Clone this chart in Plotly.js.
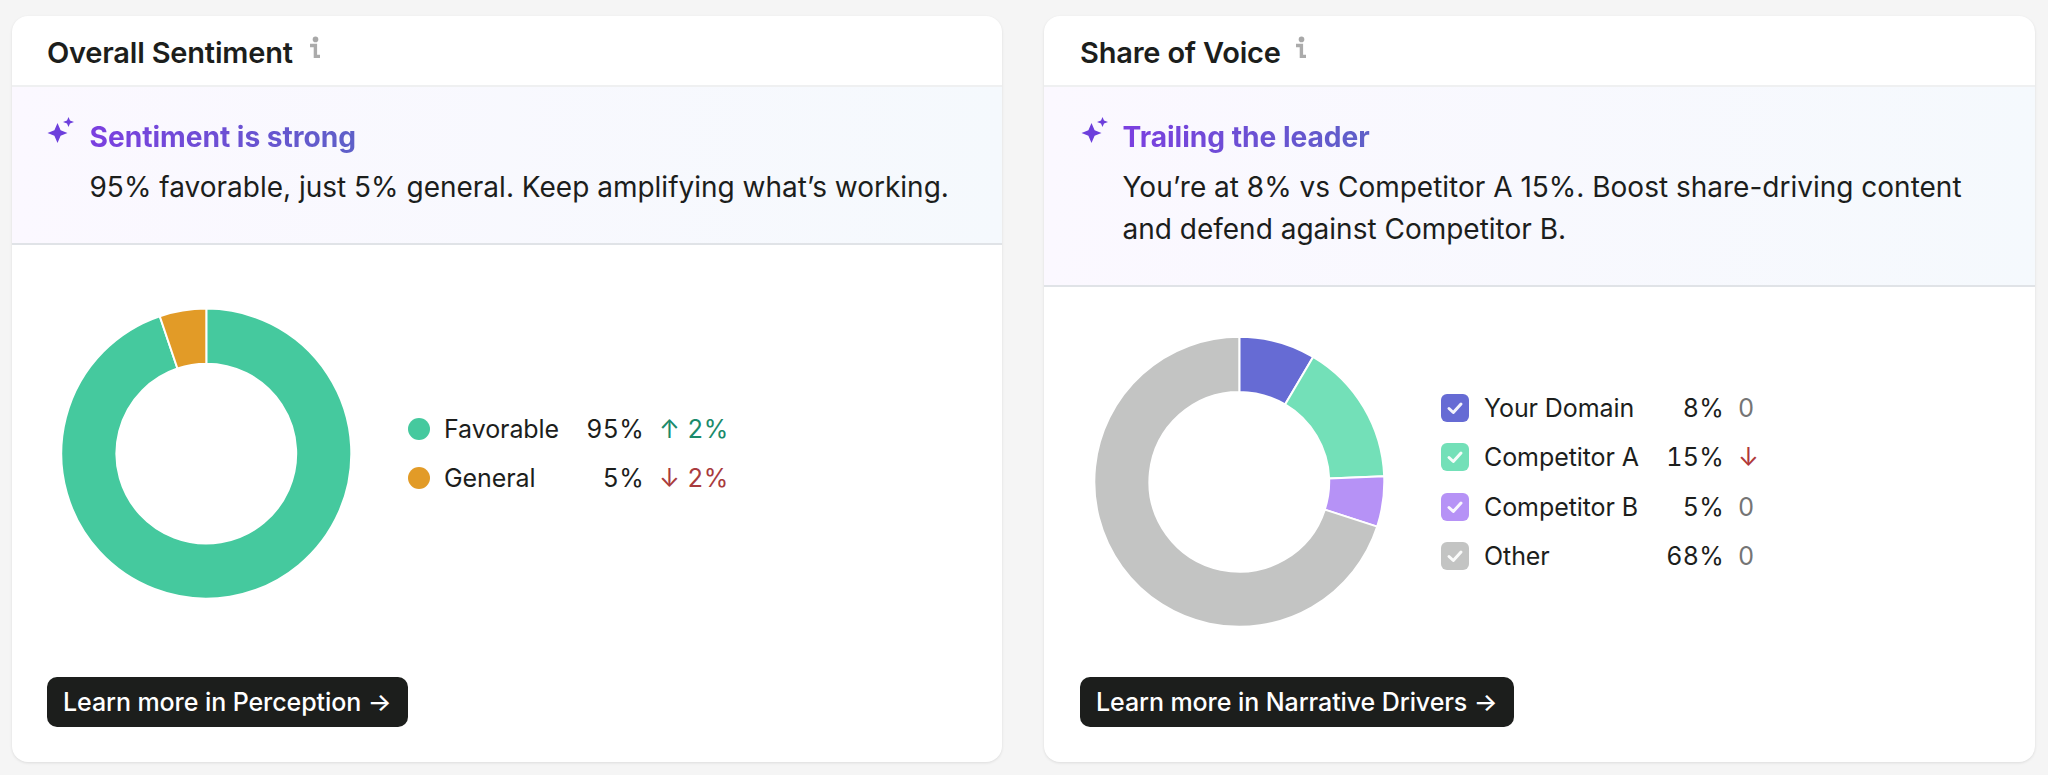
<!DOCTYPE html>
<html><head><meta charset="utf-8">
<script src="https://cdn.plot.ly/plotly-3.0.1.min.js"></script>
<style>
*{box-sizing:border-box;margin:0;padding:0}
html,body{width:2048px;height:775px;overflow:hidden;background:#f5f5f5;font-family:Inter,sans-serif;color:#1c1e1c}
.abs{position:absolute;white-space:nowrap}
.card{position:absolute;top:16px;height:746px;background:#fff;border-radius:16px;box-shadow:0 1px 3px rgba(0,0,0,.10);overflow:hidden}
.head{position:absolute;left:0;right:0;top:0;height:71px;border-bottom:2px solid #eff0f1}
.ins{position:absolute;left:0;right:0;top:71px;background:linear-gradient(90deg,#fbf8ff,#f5f9fd);border-bottom:2px solid #e0e3e7}
.title{font-size:29px;font-weight:600;letter-spacing:-.2px;transform:translateY(-50%)}
.h2{font-size:28.2px;font-weight:700;letter-spacing:-.05px;transform:translateY(-50%);background:linear-gradient(90deg,#7b3fe0,#5e60c8);-webkit-background-clip:text;background-clip:text;color:transparent}
.body{font-size:28px;line-height:42px;letter-spacing:0}
.btn{position:absolute;top:677px;height:50px;background:#1c1e1c;border-radius:10px;color:#fff;font-size:25px;font-weight:500;line-height:50px;padding-left:16px;white-space:nowrap;letter-spacing:-.08px}
.lg{font-size:25px;letter-spacing:-.08px;transform:translateY(-50%)}
.val{font-size:25px;letter-spacing:.3px;font-variant-numeric:tabular-nums;transform:translateY(-50%);text-align:right}
.dot{position:absolute;width:22px;height:22px;border-radius:50%;transform:translateY(-50%)}
.box{position:absolute;width:28px;height:28px;border-radius:6px;transform:translateY(-50%)}
#plot{position:absolute;left:0;top:0;width:2048px;height:775px;pointer-events:none}
</style></head><body>
<div class="card" style="left:12px;width:990px"><div class="head"></div><div class="ins" style="height:158px"></div></div>
<div class="card" style="left:1044px;width:991px"><div class="head"></div><div class="ins" style="height:200px"></div></div>
<div id="text"></div>
<div id="plot"></div>
<script>
// Chart values
const sentimentLabels = ["Favorable", "General"];
const sentimentSlices = [94.8, 5.2];
const sentimentShown = ["95%", "5%"];
const sentimentDelta = ["↑ 2%", "↓ 2%"];
const sentimentColors = ["#45c99e", "#e29b27"];

const voiceLabels = ["Your Domain", "Competitor A", "Competitor B", "Other"];
const voiceSlices = [8.5, 15.9, 5.6, 70];
const voiceShown = ["8%", "15%", "5%", "68%"];
const voiceDelta = ["0", "↓", "0", "0"];
const voiceColors = ["#666bd4", "#73e0b8", "#b692f6", "#c3c4c3"];

const W = 2048, H = 775;
function dom(cx, cy, r){
  return {x:[(cx-r)/W,(cx+r)/W], y:[1-(cy+r)/H,1-(cy-r)/H]};
}
function pie(labels, values, colors, d){
  return {type:"pie",labels:labels,values:values,sort:false,direction:"clockwise",rotation:0,hole:0.62,
    marker:{colors:colors,line:{color:"#fff",width:2}},textinfo:"none",showlegend:false,hoverinfo:"label+percent",domain:d};
}
Plotly.newPlot("plot",[
  pie(sentimentLabels,sentimentSlices,sentimentColors,dom(206.3,453.6,145)),
  pie(voiceLabels,voiceSlices,voiceColors,dom(1239.3,481.8,145))
],{width:W,height:H,margin:{l:0,r:0,t:0,b:0},paper_bgcolor:"rgba(0,0,0,0)",plot_bgcolor:"rgba(0,0,0,0)"},{displayModeBar:false,staticPlot:true});

const T = document.getElementById("text");
function add(cls, style, txt){
  const e=document.createElement("div"); e.className=cls; e.style.cssText=style; if(txt!==undefined) e.textContent=txt; T.appendChild(e); return e;
}
function sparkle(x){
  const e=document.createElement("div"); e.className="abs"; e.style.cssText=`left:${x}px;top:116px;width:28px;height:28px`;
  e.innerHTML='<svg width="28" height="28" viewBox="0 0 28 28"><path fill="#6d3fdc" d="M10.5 7 L13.6 14.2 L20.5 17 L13.6 19.8 L10.5 27 L7.4 19.8 L.5 17 L7.4 14.2 Z"/><path fill="#6d3fdc" d="M21.5 1 L23 4.5 L27 6 L23 7.5 L21.5 11 L20 7.5 L16 6 L20 4.5 Z"/></svg>';
  T.appendChild(e);
}
function info(x){
  const e=document.createElement("div"); e.className="abs"; e.style.cssText=`left:${x}px;top:36px;width:12px;height:24px`;
  e.innerHTML='<svg width="12" height="24" viewBox="0 0 12 24"><circle cx="6.5" cy="3.4" r="2.8" fill="#a8a8a8"/><path d="M1 9.5 H6.4 V20.4 H11" fill="none" stroke="#ababab" stroke-width="3.4"/></svg>';
  T.appendChild(e);
}
// Left card text
add("abs title","left:47px;top:52px","Overall Sentiment");
info(309);
sparkle(47);
add("abs h2","left:89.5px;top:137px","Sentiment is strong");
add("abs body","left:89.5px;top:166px","95% favorable, just 5% general. Keep amplifying what’s working.");
add("btn","left:47px;width:361px","Learn more in Perception →");
// Right card text
add("abs title","left:1080px;top:52px","Share of Voice");
info(1295);
sparkle(1080.5);
add("abs h2","left:1122.5px;top:137px","Trailing the leader");
const voiceBody = add("abs body","left:1122.5px;top:166px");
voiceBody.innerHTML="You’re at 8% vs Competitor A 15%. Boost share-driving content<br>and defend against Competitor B.";
add("btn","left:1080px;width:434px","Learn more in Narrative Drivers →");
// Sentiment legend
const sentY=[429,478];
sentimentLabels.forEach((l,i)=>{
  add("dot",`left:408px;top:${sentY[i]}px;background:${sentimentColors[i]}`);
  add("abs lg",`left:444px;top:${sentY[i]}px`,l);
  add("abs val",`right:${W-644}px;top:${sentY[i]}px`,sentimentShown[i]);
  add("abs val",`left:659px;top:${sentY[i]}px;color:${sentimentDelta[i][0]==="↑"?"#1b8a6b":"#a93b3d"}`,sentimentDelta[i]);
});
// Share of voice legend
const voiceY=[408,457,507,556];
voiceLabels.forEach((l,i)=>{
  const b=add("box",`left:1441px;top:${voiceY[i]}px;background:${voiceColors[i]}`);
  b.innerHTML='<svg width="28" height="28" viewBox="0 0 28 28"><path d="M8 14.5 L12.3 18.5 L20 10" fill="none" stroke="#fff" stroke-opacity=".92" stroke-width="3" stroke-linecap="round" stroke-linejoin="round"/></svg>';
  add("abs lg",`left:1484px;top:${voiceY[i]}px`,l);
  add("abs val",`right:${W-1724}px;top:${voiceY[i]}px`,voiceShown[i]);
  add("abs val",`left:1738px;top:${voiceY[i]}px;color:${voiceDelta[i]==="0"?"#757575":"#b0383a"}`,voiceDelta[i]);
});
</script>
</body></html>
